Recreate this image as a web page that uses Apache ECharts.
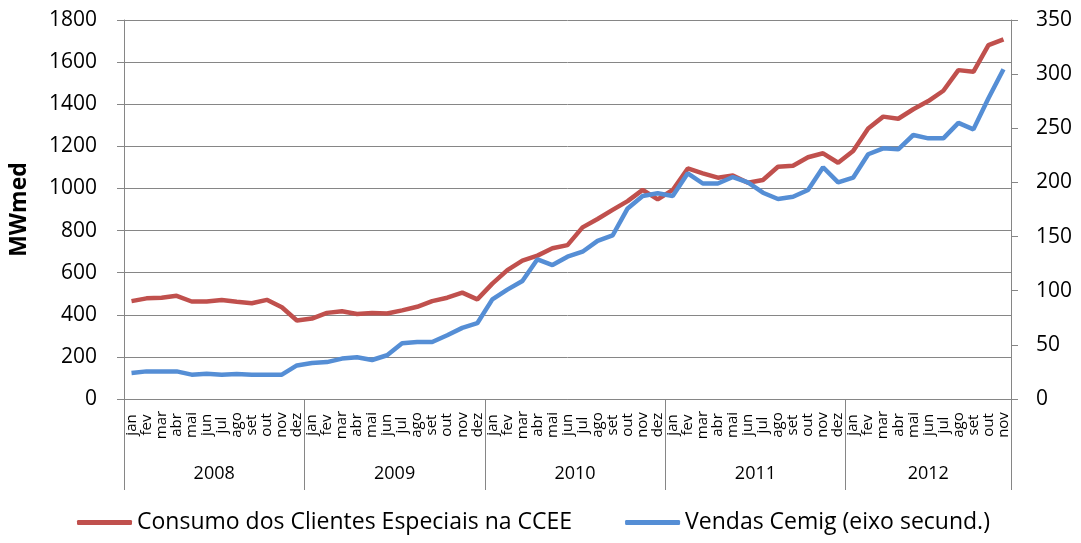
<!DOCTYPE html>
<html lang="pt" style="height: 100%">

<head>
  <meta charset="utf-8">
</head>

<body style="height: 100%; margin: 0">
  <div id="container" style="height: 100%"></div>
  <script type="text/javascript" src="https://fastly.jsdelivr.net/npm/echarts@6/dist/echarts.min.js"></script>
  <script type="text/javascript">
    const years = ['2008', '2009', '2010', '2011', '2012'];
    const months = ['jan', 'fev', 'mar', 'abr', 'mai', 'jun', 'jul', 'ago', 'set', 'out', 'nov', 'dez'];

    // MWmed, eixo principal
    const consumo = [
      465, 478, 481, 490, 463, 463, 470, 462, 455, 471, 436, 373,
      382, 409, 417, 404, 409, 406, 421, 438, 465, 481, 505, 473,
      548, 612, 657, 681, 716, 731, 815, 855, 898, 940, 993, 948,
      993, 1095, 1072, 1051, 1061, 1027, 1040, 1103, 1108, 1148, 1167, 1122,
      1178, 1285, 1341, 1331, 1376, 1415, 1464, 1562, 1554, 1681, 1708
    ];

    // eixo secundario
    const vendas = [
      24, 25.5, 25.5, 25.5, 22.5, 23.4, 22.5, 23, 22.5, 22.5, 22.5, 31,
      33.2, 34.1, 37.3, 38.5, 36, 40.4, 51.5, 52.7, 52.7, 58.9, 65.7, 70,
      92, 101, 109, 129, 123.7, 131.4, 136, 146, 151, 176, 187.5, 190,
      187.5, 208.4, 199, 199, 205, 200, 190.5, 184.7, 186.8, 193, 214, 200,
      204.4, 226, 231.5, 230.6, 243.8, 240.7, 240.7, 255, 249, 277.7, 304.5
    ];

    const yearBounds = [0, 12, 24, 36, 48, 59];
    const yearCenters = [6, 18, 30, 42, 53.5];

    const categories = [];
    for (let i = 0; i < consumo.length; i++) {
      categories.push(months[i % 12]);
    }

    const font = "'Open Sans', sans-serif";
    const gridColor = '#868686';

    var dom = document.getElementById('container');
    var myChart = echarts.init(dom, null, { renderer: 'canvas' });

    var option = {
      animation: false,
      textStyle: { fontFamily: font, color: '#000' },
      grid: { left: 122, right: 70, top: 20, bottom: 144, containLabel: false },
      legend: {
        bottom: 4,
        left: 72,
        itemWidth: 55,
        itemHeight: 5,
        itemGap: 53,
        icon: 'roundRect',
        textStyle: { fontSize: 23, fontFamily: font, color: '#000' },
        data: ['Consumo dos Clientes Especiais na CCEE', 'Vendas Cemig (eixo secund.)']
      },
      xAxis: [
        {
          type: 'category',
          data: categories,
          boundaryGap: true,
          axisLine: { lineStyle: { color: gridColor } },
          axisTick: { interval: 0, length: 48, lineStyle: { color: gridColor } },
          axisLabel: {
            interval: 0,
            rotate: 90,
            align: 'center',
            verticalAlign: 'middle',
            fontSize: 15,
            margin: 26,
            color: '#000',
            fontFamily: font
          },
          splitLine: { show: false }
        },
        {
          type: 'value',
          position: 'bottom',
          min: 0,
          max: 59,
          axisLine: { show: false },
          splitLine: { show: false },
          axisTick: { show: true, customValues: yearBounds, length: 91, lineStyle: { color: gridColor } },
          axisLabel: {
            customValues: yearCenters,
            margin: 66,
            fontSize: 18,
            color: '#000',
            fontFamily: font,
            formatter: (v) => years[Math.floor(v / 12)]
          }
        }
      ],
      yAxis: [
        {
          type: 'value',
          min: 0,
          max: 1800,
          interval: 200,
          name: 'MWmed',
          nameLocation: 'middle',
          nameGap: 93,
          nameTextStyle: { fontSize: 23, fontWeight: 'bold', fontFamily: font, color: '#000' },
          axisLine: { show: true, lineStyle: { color: gridColor } },
          axisTick: { show: true, length: 7, lineStyle: { color: gridColor } },
          axisLabel: { fontSize: 21, margin: 27, color: '#000', fontFamily: font, formatter: (v) => String(v) },
          splitLine: { show: true, lineStyle: { color: gridColor, width: 1 } }
        },
        {
          type: 'value',
          min: 0,
          max: 350,
          interval: 50,
          position: 'right',
          axisLine: { show: true, lineStyle: { color: gridColor } },
          axisTick: { show: true, length: 7, lineStyle: { color: gridColor } },
          axisLabel: { fontSize: 21, margin: 25, color: '#000', fontFamily: font, formatter: (v) => String(v) },
          splitLine: { show: false }
        }
      ],
      series: [
        {
          name: 'Consumo dos Clientes Especiais na CCEE',
          type: 'line',
          data: consumo,
          xAxisIndex: 0,
          yAxisIndex: 0,
          symbol: 'none',
          color: '#C0504D',
          lineStyle: { width: 4.5, color: '#C0504D' }
        },
        {
          name: 'Vendas Cemig (eixo secund.)',
          type: 'line',
          data: vendas,
          xAxisIndex: 0,
          yAxisIndex: 1,
          symbol: 'none',
          color: '#558ED5',
          lineStyle: { width: 4.5, color: '#558ED5' }
        }
      ]
    };

    myChart.setOption(option);
    window.addEventListener('resize', myChart.resize);
  </script>
</body>

</html>
